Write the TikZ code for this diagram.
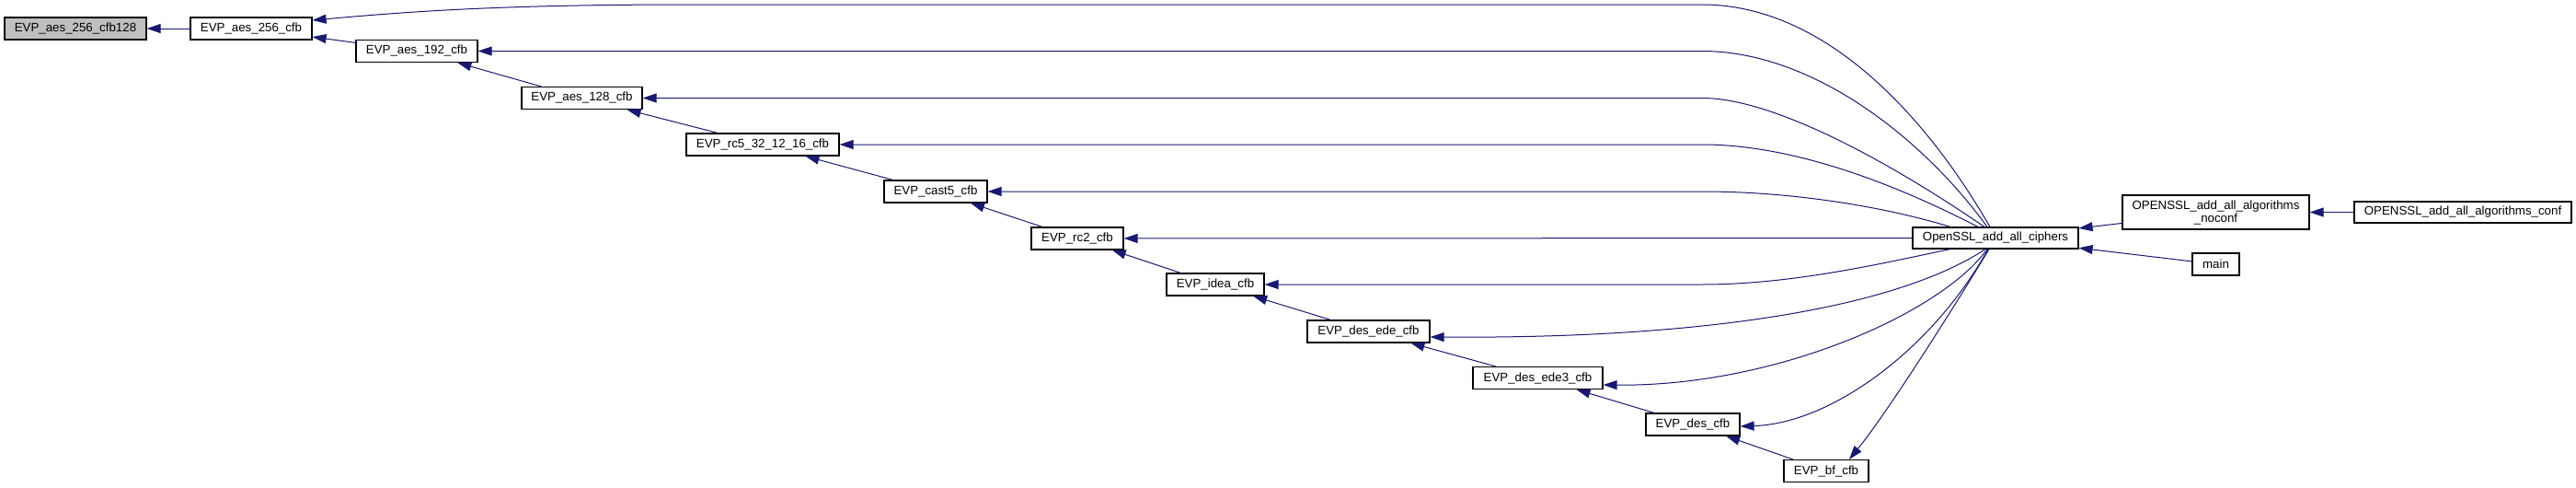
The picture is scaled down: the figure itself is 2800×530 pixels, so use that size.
\documentclass[tikz,border=0pt]{standalone}
\usepackage{fontspec}
\setmainfont{Liberation Sans}
\usetikzlibrary{arrows.meta,calc}
\definecolor{edgeblue}{HTML}{191970}
\definecolor{rootgray}{HTML}{BFBFBF}
\begin{document}
\begin{tikzpicture}[x=0.5pt,y=-0.5pt,
  fn/.style={draw=black, line width=0.6pt, fill=white, inner sep=0pt, minimum height=12pt, font=\fontsize{6.65}{7}\selectfont, align=center},
  calledge/.style={draw=edgeblue, line width=0.5pt, {Triangle[length=7.5pt,width=5pt]}-}]
\useasboundingbox (0,0) rectangle (2800,530);
\node[fn, fill=rootgray, minimum width=77pt] (cfb128) at (82,31) {EVP\_aes\_256\_cfb128};
\node[fn, minimum width=66pt] (aes256) at (273,31) {EVP\_aes\_256\_cfb};
\node[fn, minimum width=66pt] (aes192) at (453,55.5) {EVP\_aes\_192\_cfb};
\node[fn, minimum width=65.5pt] (aes128) at (632.5,106.5) {EVP\_aes\_128\_cfb};
\node[fn, minimum width=83pt] (rc5) at (829,157) {EVP\_rc5\_32\_12\_16\_cfb};
\node[fn, minimum width=56pt] (cast5) at (1017,208) {EVP\_cast5\_cfb};
\node[fn, minimum width=50pt] (rc2) at (1171,259) {EVP\_rc2\_cfb};
\node[fn, minimum width=53pt] (idea) at (1321,309) {EVP\_idea\_cfb};
\node[fn, minimum width=66.5pt] (desede) at (1487.5,360) {EVP\_des\_ede\_cfb};
\node[fn, minimum width=70.5pt] (desede3) at (1671.5,410.5) {EVP\_des\_ede3\_cfb};
\node[fn, minimum width=51pt] (descfb) at (1840,461) {EVP\_des\_cfb};
\node[fn, minimum width=46pt] (bfcfb) at (1985,511.5) {EVP\_bf\_cfb};
\node[fn, minimum width=90pt, minimum height=11.5pt] (ciphers) at (2169,258.5) {OpenSSL\_add\_all\_ciphers};
\node[fn, minimum width=101.5pt, minimum height=18.5pt] (noconf) at (2408.5,230.5) {OPENSSL\_add\_all\_algorithms\\\_noconf};
\node[fn, minimum width=118pt, minimum height=11.5pt] (conf) at (2677,230.5) {OPENSSL\_add\_all\_algorithms\_conf};
\node[fn, minimum width=25.5pt] (main) at (2408.5,287) {main};

\draw[calledge] (cfb128) -- (aes256);
\draw[calledge] (aes256) -- (aes192);
\draw[calledge] (aes192) -- (aes128);
\draw[calledge] (aes128) -- (rc5);
\draw[calledge] (rc5) -- (cast5);
\draw[calledge] (cast5) -- (rc2);
\draw[calledge] (rc2) -- (idea);
\draw[calledge] (idea) -- (desede);
\draw[calledge] (desede) -- (desede3);
\draw[calledge] (desede3) -- (descfb);
\draw[calledge] (descfb) -- (bfcfb);

\draw[calledge] ($(aes256.east)+(0,-9)$) .. controls (450,12) and (550,5) .. (750,5) -- (1850,5) .. controls (1980,5) and (2090,120) .. ($(ciphers.north)+(-6,0)$);
\draw[calledge] (aes192.east) -- (1850,55.5) .. controls (1970,55.5) and (2090,150) .. ($(ciphers.north)+(-9,0)$);
\draw[calledge] (aes128.east) -- (1850,106.5) .. controls (1930,106.5) and (2060,180) .. ($(ciphers.north)+(-12,0)$);
\draw[calledge] (rc5.east) -- (1850,157) .. controls (1950,157) and (2060,200) .. ($(ciphers.north)+(-19,0)$);
\draw[calledge] (cast5.east) -- (1850,208) .. controls (1950,208) and (2050,225) .. ($(ciphers.north)+(-49,0)$);
\draw[calledge] (rc2) -- (ciphers);
\draw[calledge] (idea.east) -- (1850,309) .. controls (1950,309) and (2050,285) .. ($(ciphers.south)+(-49,0)$);
\draw[calledge] ($(desede.east)+(0,6)$) .. controls (1850,368) and (2060,335) .. ($(ciphers.south)+(-11,0)$);
\draw[calledge] ($(desede3.east)+(0,7.5)$) .. controls (1930,420) and (2110,340) .. ($(ciphers.south)+(-9,0)$);
\draw[calledge] ($(descfb.east)+(0,2)$) .. controls (1990,460) and (2100,380) .. ($(ciphers.south)+(-8,0)$);
\draw[calledge] ($(bfcfb.north)+(25,0)$) .. controls (2050,450) and (2120,340) .. ($(ciphers.south)+(-7,0)$);
\draw[calledge] (ciphers) -- (noconf);
\draw[calledge] (ciphers) -- (main);
\draw[calledge] (noconf) -- (conf);
\end{tikzpicture}
\end{document}
